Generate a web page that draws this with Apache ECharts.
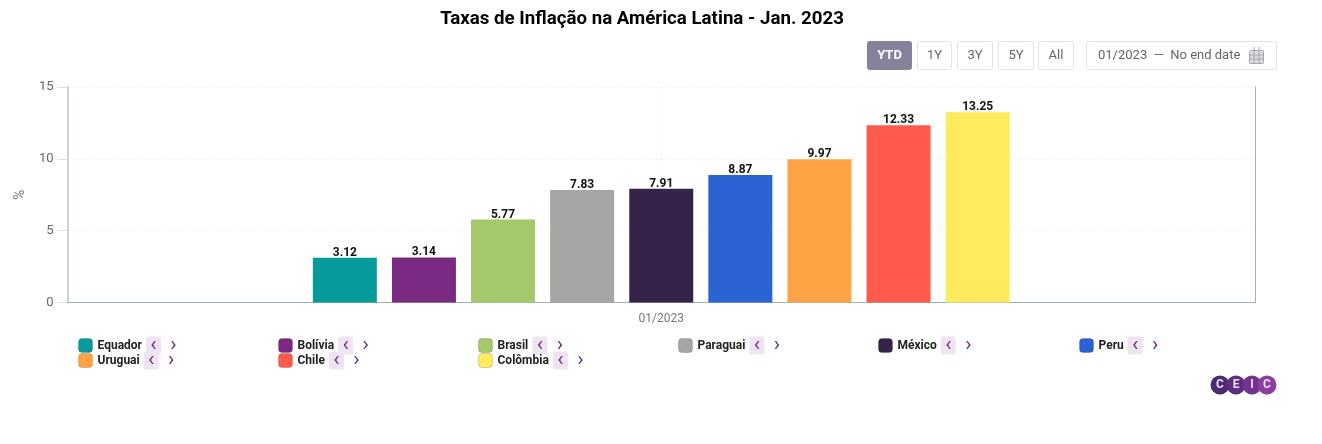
<!DOCTYPE html>
<html>
<head>
<meta charset="utf-8">
<title>Taxas de Inflação na América Latina - Jan. 2023</title>
<script src="https://cdn.jsdelivr.net/npm/echarts@6/dist/echarts.min.js"></script>
<style>
    html, body, #main { margin: 0; padding: 0; width: 1322px; height: 444px; background: #fff; }
</style>
</head>
<body>
<div id="main"></div>
<script>
var periods = ['01/2023'];
var countries = ['Equador', 'Bolívia', 'Brasil', 'Paraguai', 'México', 'Peru', 'Uruguai', 'Chile', 'Colômbia'];
var inflation = [3.12, 3.14, 5.77, 7.83, 7.91, 8.87, 9.97, 12.33, 13.25];
var colors = ['#069a9a', '#7b2a83', '#a3c96a', '#a5a5a3', '#35234a', '#2b63d3', '#ffa345', '#ff5a4b', '#ffeb5d'];
var rangeButtons = ['YTD', '1Y', '3Y', '5Y', 'All'];
var logoLetters = ['C', 'E', 'I', 'C'];

var font = 'Roboto';
var dots = [1, 5];
var chart = echarts.init(document.getElementById('main'));

// one bar series per country
var series = countries.map(function (name, i) {
    return {
        name: name,
        type: 'bar',
        data: [inflation[i]],
        barWidth: 64,
        barGap: '23.6%',
        itemStyle: { color: colors[i] },
        label: {
            show: true,
            position: 'top',
            distance: -1,
            formatter: function (p) { return p.value.toFixed(2); },
            color: '#111',
            fontFamily: font,
            fontWeight: 'bold',
            fontSize: 12
        }
    };
});

// one legend per country so the columns line up like the reference
var legendX = [78, 278, 478, 678, 878, 1079];
var legends = countries.map(function (name, i) {
    return {
        data: [name],
        left: legendX[i % 6],
        top: i < 6 ? 335 : 350,
        padding: 0,
        itemWidth: 14,
        itemHeight: 14,
        icon: 'roundRect',
        selectedMode: false,
        itemStyle: { borderColor: 'rgba(0,0,0,0.15)', borderWidth: 1 },
        formatter: function (n) { return '{n|' + n + '}{a|‹}{b|›}'; },
        textStyle: {
            rich: {
                n: { fontFamily: font, fontWeight: 'bold', fontSize: 12, color: '#222', padding: [0, 4, 0, 0] },
                a: { fontFamily: font, fontSize: 21, color: '#6b2c7e', backgroundColor: '#efe4f2', borderRadius: 2, width: 15, height: 18, lineHeight: 16, align: 'center' },
                b: { fontFamily: font, fontSize: 21, color: '#6b2c7e', width: 25, height: 18, lineHeight: 16, align: 'center' }
            }
        }
    };
});

// range buttons, date box and logo
var graphics = [];
var btnX = [867, 917, 957, 998, 1038];
var btnW = [44, 34, 35, 35, 35];
rangeButtons.forEach(function (t, i) {
    var active = i === 0;
    graphics.push({
        type: 'rect',
        shape: { x: btnX[i] + 0.5, y: 41.5, width: btnW[i], height: 28, r: 2 },
        style: { fill: active ? '#85839b' : '#fff', stroke: active ? '#85839b' : '#e3e3e3', lineWidth: 1 }
    });
    graphics.push({
        type: 'text',
        x: btnX[i] + btnW[i] / 2 + 0.5,
        y: 56,
        style: { text: t, fill: active ? '#fff' : '#666', font: (active ? 'bold ' : '') + '13px ' + font, textAlign: 'center', textVerticalAlign: 'middle' }
    });
});
graphics.push({
    type: 'rect',
    shape: { x: 1086.5, y: 41.5, width: 190, height: 28, r: 2 },
    style: { fill: '#fff', stroke: '#e3e3e3', lineWidth: 1 }
});
graphics.push({
    type: 'text',
    x: 1098,
    y: 56,
    style: { text: '01/2023  —  No end date', fill: '#666', font: '13px ' + font, textVerticalAlign: 'middle' }
});
// calendar icon
graphics.push({
    type: 'rect',
    shape: { x: 1249.5, y: 50.5, width: 14, height: 13, r: 1 },
    style: { fill: '#dedbe3', stroke: '#a9a6b0', lineWidth: 1 }
});
[1254, 1259].forEach(function (x) {
    graphics.push({ type: 'line', shape: { x1: x, y1: 47, x2: x, y2: 64 }, style: { stroke: '#a9a6b0', lineWidth: 1 } });
});
[55, 59].forEach(function (y) {
    graphics.push({ type: 'line', shape: { x1: 1250, y1: y, x2: 1263, y2: y }, style: { stroke: '#a9a6b0', lineWidth: 1 } });
});
var logoX = [1220, 1236, 1252, 1267];
var logoC = ['#4b2a6e', '#5e2d80', '#74338f', '#8a3fa0'];
logoLetters.forEach(function (l, i) {
    graphics.push({ type: 'circle', shape: { cx: logoX[i], cy: 385, r: 9.5 }, style: { fill: logoC[i] } });
});
logoLetters.forEach(function (l, i) {
    graphics.push({
        type: 'text', x: logoX[i], y: 385,
        style: { text: l, fill: '#e9e0f0', font: 'bold 12px ' + font, textAlign: 'center', textVerticalAlign: 'middle' }
    });
});

chart.setOption({
    animation: false,
    textStyle: { fontFamily: font },
    title: {
        text: 'Taxas de Inflação na América Latina - Jan. 2023',
        left: 637,
        top: 5,
        textAlign: 'center',
        textStyle: { fontFamily: font, fontWeight: 'bold', fontSize: 18.7, color: '#000' }
    },
    legend: legends,
    grid: { left: 67.5, right: 67, top: 87, bottom: 141.5 },
    xAxis: [{
        type: 'category',
        data: periods,
        axisTick: { show: false },
        axisLine: { onZero: false, lineStyle: { color: '#9fb0b0', width: 1 } },
        axisLabel: { color: '#777', fontSize: 12, fontFamily: font, margin: 10 },
        splitLine: { show: false }
    }, {
        // only here for the dotted centre line behind the bars
        type: 'value',
        min: -1,
        max: 1,
        interval: 1,
        position: 'top',
        axisLine: { show: false },
        axisTick: { show: false },
        axisLabel: { show: false },
        splitLine: { show: true, showMinLine: false, showMaxLine: false, lineStyle: { color: '#dfe4e4', type: dots } }
    }],
    yAxis: [{
        type: 'value',
        min: 0,
        max: 15,
        interval: 5,
        name: '%',
        nameLocation: 'middle',
        nameGap: 38,
        nameRotate: 90,
        nameTextStyle: { color: '#777', fontSize: 14, fontFamily: font },
        axisLine: { show: true, onZero: false, lineStyle: { color: '#c9d4d4', width: 2 } },
        axisTick: { show: true, length: 10, lineStyle: { color: '#dde3e3' } },
        axisLabel: { color: '#666', fontSize: 13, fontFamily: font, margin: 14 },
        splitLine: { show: true, lineStyle: { color: '#dfe4e4', type: dots } }
    }, {
        type: 'value',
        min: 0,
        max: 15,
        interval: 5,
        position: 'right',
        axisLine: { show: true, onZero: false, lineStyle: { color: '#9fb0b0', width: 1 } },
        axisTick: { show: false },
        axisLabel: { show: false },
        splitLine: { show: false }
    }],
    series: series,
    graphic: { elements: graphics }
});
</script>
</body>
</html>
